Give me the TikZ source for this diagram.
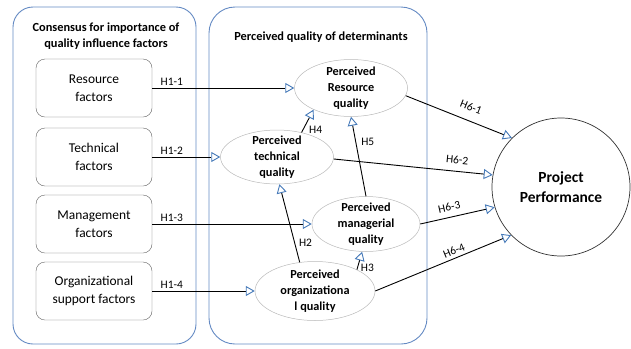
\documentclass[tikz,border=0pt]{standalone}
\usepackage{fontspec}
\setmainfont{Carlito}
\usetikzlibrary{arrows.meta,shapes.geometric}
\definecolor{groupblue}{RGB}{100,138,195}
\definecolor{tipblue}{RGB}{70,122,185}

\begin{document}
\begin{tikzpicture}[x=1bp,y=-1bp,
  group/.style={draw=groupblue, line width=0.9bp},
  factor/.style={draw=gray!75!black, rounded corners=9bp, minimum width=116bp, minimum height=58bp, align=center, font=\fontsize{13.5}{18}\selectfont},
  percv/.style={ellipse, draw=gray!55, line width=0.5bp, inner sep=0pt},
  qtext/.style={align=center, font=\bfseries\fontsize{12.3}{16}\selectfont},
  hyp/.style={line width=0.9bp, -{Triangle[open, length=9bp, width=10bp, color=tipblue, fill=white]}},
  hlab/.style={font=\fontsize{11.5}{14}\selectfont, inner sep=2bp}]
  \useasboundingbox (0,0) rectangle (631,348);
  % the two groups
  \draw[group, rounded corners=20bp] (13,7) rectangle (196,344);
  \draw[group, rounded corners=26bp] (209,7) rectangle (427,344);
  \node[align=center, font=\bfseries\fontsize{12.4}{16}\selectfont] (ttlcons) at (106,36) {Consensus for importance of\\quality influence factors};
  \node[font=\bfseries\fontsize{12.4}{16}\selectfont] (ttldet) at (321,37) {Perceived quality of determinants};
  % factors
  \foreach \nm/\yy/\txt in {resf/88/{Resource\\factors}, tecf/157/{Technical\\factors}, manf/224/{Management\\factors}, orgf/291/{Organizational\\support factors}}
  {
    \node[factor] (\nm) at (94,\yy) {\txt};
  }
  % perceived qualities
  \node[percv, minimum width=113bp, minimum height=57bp] (resq) at (351,88) {};
  \node[qtext] (resqt) at (resq) {Perceived\\Resource\\quality};
  \node[percv, minimum width=113bp, minimum height=54bp] (tecq) at (277,157) {};
  \node[qtext] (tecqt) at (tecq) {Perceived\\technical\\quality};
  \node[percv, minimum width=108bp, minimum height=55bp] (manq) at (366,224) {};
  \node[qtext] (manqt) at (manq) {Perceived\\managerial\\quality};
  \node[percv, minimum width=120bp, minimum height=59bp] (orgq) at (315,291) {};
  \node[qtext] (orgqt) at (orgq) {Perceived\\organizationa\\l quality};
  \node[circle, draw=black!80, line width=0.7bp, minimum size=138bp, align=center, font=\bfseries\fontsize{15.5}{20}\selectfont] (perf) at (561,187) {Project\\Performance};
  % H1
  \foreach \a/\b/\lab in {resf/resq/H1-1, tecf/tecq/H1-2, manf/manq/H1-3, orgf/orgq/H1-4}
  {
    \draw[hyp] (\a.east) -- (\b.west) node[hlab, pos=0, anchor=south west, xshift=6bp] {\lab};
  }
  % between the qualities
  \draw[hyp] (tecq.45) -- (resq.210) node[hlab, pos=0.1, right, xshift=4bp] {H4};
  \draw[hyp] (manq.north) -- (resq.south) node[hlab, pos=0.68, right, xshift=3bp] {H5};
  \draw[hyp] (orgq.118) -- (tecq.275) node[hlab, pos=0.25, right, xshift=2bp] {H2};
  \draw[hyp] (orgq.27) -- (manq.262) node[hlab, pos=0.1, right, xshift=1bp] {H3};
  % H6
  \draw[hyp] (resq.-8) -- (perf.135) node[hlab, pos=0.57, sloped, above=7bp] {H6-1};
  \draw[hyp] (tecq.-2) -- (perf.170) node[hlab, pos=0.77, sloped, above=5bp] {H6-2};
  \draw[hyp] (manq.east) -- (perf.197) node[hlab, pos=0.42, sloped, above=4bp] {H6-3};
  \draw[hyp] (orgq.east) -- (perf.224) node[hlab, pos=0.6, sloped, above=1bp] {H6-4};
\end{tikzpicture}
\end{document}
